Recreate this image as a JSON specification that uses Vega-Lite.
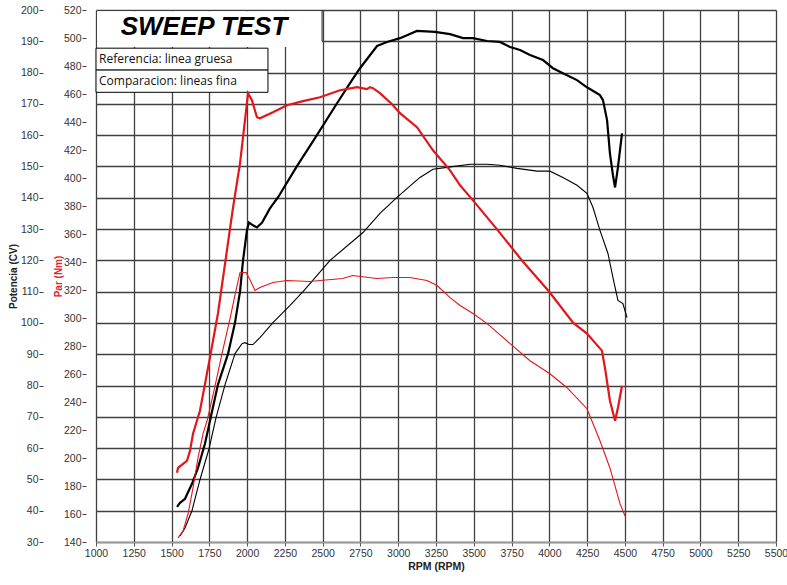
{
  "$schema": "https://vega.github.io/schema/vega-lite/v6.json",
  "autosize": {"type": "none"},
  "width": 680,
  "height": 532,
  "padding": {"left": 96, "top": 10, "right": 11, "bottom": 43},
  "background": "white",
  "config": {"view": {"stroke": null}, "font": "Liberation Sans"},
  "datasets": {
    "power": [
      {"rpm":1536,"cv":41.2,"s":"ref"},{"rpm":1556,"cv":42.5,"s":"ref"},{"rpm":1589,"cv":43.8,"s":"ref"},{"rpm":1635,"cv":48.6,"s":"ref"},{"rpm":1675,"cv":53.7,"s":"ref"},{"rpm":1721,"cv":61.4,"s":"ref"},{"rpm":1754,"cv":68.7,"s":"ref"},{"rpm":1807,"cv":80.3,"s":"ref"},{"rpm":1874,"cv":90.2,"s":"ref"},{"rpm":1920,"cv":100.1,"s":"ref"},{"rpm":1953,"cv":110.0,"s":"ref"},{"rpm":1973,"cv":120.0,"s":"ref"},{"rpm":1999,"cv":129.6,"s":"ref"},{"rpm":2012,"cv":132.1,"s":"ref"},{"rpm":2039,"cv":131.2,"s":"ref"},{"rpm":2065,"cv":130.5,"s":"ref"},{"rpm":2099,"cv":132.1,"s":"ref"},{"rpm":2151,"cv":136.6,"s":"ref"},{"rpm":2204,"cv":140.1,"s":"ref"},{"rpm":2330,"cv":150.1,"s":"ref"},{"rpm":2462,"cv":160.0,"s":"ref"},{"rpm":2595,"cv":170.2,"s":"ref"},{"rpm":2694,"cv":177.6,"s":"ref"},{"rpm":2747,"cv":181.4,"s":"ref"},{"rpm":2860,"cv":188.5,"s":"ref"},{"rpm":2926,"cv":189.8,"s":"ref"},{"rpm":3012,"cv":191.0,"s":"ref"},{"rpm":3124,"cv":193.3,"s":"ref"},{"rpm":3243,"cv":193.0,"s":"ref"},{"rpm":3343,"cv":192.3,"s":"ref"},{"rpm":3429,"cv":191.0,"s":"ref"},{"rpm":3495,"cv":191.0,"s":"ref"},{"rpm":3588,"cv":190.1,"s":"ref"},{"rpm":3673,"cv":189.8,"s":"ref"},{"rpm":3740,"cv":188.2,"s":"ref"},{"rpm":3806,"cv":187.2,"s":"ref"},{"rpm":3872,"cv":185.6,"s":"ref"},{"rpm":3958,"cv":184.0,"s":"ref"},{"rpm":4024,"cv":181.4,"s":"ref"},{"rpm":4090,"cv":179.8,"s":"ref"},{"rpm":4183,"cv":177.6,"s":"ref"},{"rpm":4249,"cv":175.3,"s":"ref"},{"rpm":4335,"cv":172.8,"s":"ref"},{"rpm":4355,"cv":171.2,"s":"ref"},{"rpm":4382,"cv":164.8,"s":"ref"},{"rpm":4401,"cv":154.2,"s":"ref"},{"rpm":4421,"cv":147.2,"s":"ref"},{"rpm":4435,"cv":143.3,"s":"ref"},{"rpm":4454,"cv":149.7,"s":"ref"},{"rpm":4481,"cv":160.6,"s":"ref"},
      {"rpm":1556,"cv":31.9,"s":"cmp"},{"rpm":1589,"cv":34.5,"s":"cmp"},{"rpm":1635,"cv":40.0,"s":"cmp"},{"rpm":1688,"cv":49.9,"s":"cmp"},{"rpm":1748,"cv":59.8,"s":"cmp"},{"rpm":1794,"cv":69.7,"s":"cmp"},{"rpm":1854,"cv":80.3,"s":"cmp"},{"rpm":1920,"cv":90.2,"s":"cmp"},{"rpm":1966,"cv":93.4,"s":"cmp"},{"rpm":1986,"cv":93.7,"s":"cmp"},{"rpm":2012,"cv":93.1,"s":"cmp"},{"rpm":2039,"cv":93.1,"s":"cmp"},{"rpm":2085,"cv":95.3,"s":"cmp"},{"rpm":2171,"cv":100.1,"s":"cmp"},{"rpm":2284,"cv":105.6,"s":"cmp"},{"rpm":2370,"cv":110.0,"s":"cmp"},{"rpm":2549,"cv":120.0,"s":"cmp"},{"rpm":2767,"cv":128.9,"s":"cmp"},{"rpm":2879,"cv":135.0,"s":"cmp"},{"rpm":2992,"cv":140.1,"s":"cmp"},{"rpm":3098,"cv":144.6,"s":"cmp"},{"rpm":3144,"cv":146.5,"s":"cmp"},{"rpm":3230,"cv":149.1,"s":"cmp"},{"rpm":3323,"cv":149.7,"s":"cmp"},{"rpm":3475,"cv":150.7,"s":"cmp"},{"rpm":3588,"cv":150.7,"s":"cmp"},{"rpm":3673,"cv":150.4,"s":"cmp"},{"rpm":3786,"cv":149.4,"s":"cmp"},{"rpm":3918,"cv":148.5,"s":"cmp"},{"rpm":4004,"cv":148.5,"s":"cmp"},{"rpm":4090,"cv":146.5,"s":"cmp"},{"rpm":4183,"cv":144.0,"s":"cmp"},{"rpm":4249,"cv":141.4,"s":"cmp"},{"rpm":4289,"cv":136.9,"s":"cmp"},{"rpm":4335,"cv":129.6,"s":"cmp"},{"rpm":4388,"cv":122.2,"s":"cmp"},{"rpm":4421,"cv":114.5,"s":"cmp"},{"rpm":4454,"cv":107.2,"s":"cmp"},{"rpm":4487,"cv":106.2,"s":"cmp"},{"rpm":4514,"cv":101.7,"s":"cmp"}
    ],
    "torque": [
      {"rpm":1536,"nm":189.4,"s":"ref"},{"rpm":1543,"nm":192.9,"s":"ref"},{"rpm":1576,"nm":195.8,"s":"ref"},{"rpm":1602,"nm":198.0,"s":"ref"},{"rpm":1622,"nm":205.1,"s":"ref"},{"rpm":1642,"nm":217.3,"s":"ref"},{"rpm":1668,"nm":226.6,"s":"ref"},{"rpm":1688,"nm":233.7,"s":"ref"},{"rpm":1754,"nm":271.7,"s":"ref"},{"rpm":1807,"nm":303.2,"s":"ref"},{"rpm":1854,"nm":338.9,"s":"ref"},{"rpm":1907,"nm":379.0,"s":"ref"},{"rpm":1953,"nm":410.5,"s":"ref"},{"rpm":1986,"nm":441.3,"s":"ref"},{"rpm":2006,"nm":460.6,"s":"ref"},{"rpm":2032,"nm":455.6,"s":"ref"},{"rpm":2065,"nm":443.4,"s":"ref"},{"rpm":2085,"nm":442.7,"s":"ref"},{"rpm":2171,"nm":447.0,"s":"ref"},{"rpm":2264,"nm":452.0,"s":"ref"},{"rpm":2370,"nm":454.9,"s":"ref"},{"rpm":2482,"nm":457.7,"s":"ref"},{"rpm":2615,"nm":462.7,"s":"ref"},{"rpm":2727,"nm":464.9,"s":"ref"},{"rpm":2793,"nm":463.5,"s":"ref"},{"rpm":2813,"nm":464.9,"s":"ref"},{"rpm":2833,"nm":464.2,"s":"ref"},{"rpm":2879,"nm":460.6,"s":"ref"},{"rpm":2959,"nm":452.7,"s":"ref"},{"rpm":3012,"nm":446.3,"s":"ref"},{"rpm":3124,"nm":436.3,"s":"ref"},{"rpm":3230,"nm":419.8,"s":"ref"},{"rpm":3343,"nm":405.5,"s":"ref"},{"rpm":3409,"nm":394.8,"s":"ref"},{"rpm":3495,"nm":384.0,"s":"ref"},{"rpm":3654,"nm":363.3,"s":"ref"},{"rpm":3819,"nm":341.1,"s":"ref"},{"rpm":3998,"nm":318.9,"s":"ref"},{"rpm":4157,"nm":296.7,"s":"ref"},{"rpm":4249,"nm":288.9,"s":"ref"},{"rpm":4348,"nm":276.7,"s":"ref"},{"rpm":4368,"nm":264.5,"s":"ref"},{"rpm":4401,"nm":240.9,"s":"ref"},{"rpm":4435,"nm":226.6,"s":"ref"},{"rpm":4454,"nm":235.9,"s":"ref"},{"rpm":4481,"nm":251.6,"s":"ref"},
      {"rpm":1543,"nm":142.9,"s":"cmp"},{"rpm":1576,"nm":147.9,"s":"cmp"},{"rpm":1609,"nm":160.0,"s":"cmp"},{"rpm":1642,"nm":178.6,"s":"cmp"},{"rpm":1675,"nm":200.1,"s":"cmp"},{"rpm":1708,"nm":217.3,"s":"cmp"},{"rpm":1735,"nm":226.6,"s":"cmp"},{"rpm":1781,"nm":248.1,"s":"cmp"},{"rpm":1834,"nm":274.5,"s":"cmp"},{"rpm":1887,"nm":299.6,"s":"cmp"},{"rpm":1926,"nm":319.6,"s":"cmp"},{"rpm":1953,"nm":332.5,"s":"cmp"},{"rpm":1973,"nm":332.5,"s":"cmp"},{"rpm":1993,"nm":332.5,"s":"cmp"},{"rpm":2019,"nm":327.3,"s":"cmp"},{"rpm":2052,"nm":319.6,"s":"cmp"},{"rpm":2085,"nm":321.8,"s":"cmp"},{"rpm":2171,"nm":325.3,"s":"cmp"},{"rpm":2264,"nm":326.8,"s":"cmp"},{"rpm":2416,"nm":326.1,"s":"cmp"},{"rpm":2482,"nm":326.8,"s":"cmp"},{"rpm":2633,"nm":328.2,"s":"cmp"},{"rpm":2699,"nm":330.4,"s":"cmp"},{"rpm":2859,"nm":328.2,"s":"cmp"},{"rpm":2965,"nm":328.9,"s":"cmp"},{"rpm":3078,"nm":328.9,"s":"cmp"},{"rpm":3190,"nm":326.8,"s":"cmp"},{"rpm":3257,"nm":323.2,"s":"cmp"},{"rpm":3343,"nm":314.6,"s":"cmp"},{"rpm":3409,"nm":308.9,"s":"cmp"},{"rpm":3495,"nm":303.2,"s":"cmp"},{"rpm":3588,"nm":296.0,"s":"cmp"},{"rpm":3740,"nm":281.7,"s":"cmp"},{"rpm":3872,"nm":269.5,"s":"cmp"},{"rpm":4004,"nm":260.2,"s":"cmp"},{"rpm":4117,"nm":250.2,"s":"cmp"},{"rpm":4249,"nm":235.2,"s":"cmp"},{"rpm":4335,"nm":212.3,"s":"cmp"},{"rpm":4401,"nm":192.9,"s":"cmp"},{"rpm":4468,"nm":167.2,"s":"cmp"},{"rpm":4501,"nm":158.6,"s":"cmp"}
    ]
  },
  "layer": [
    {
      "layer": [
        {
          "data": {"name": "power"},
          "mark": {"type": "line", "color": "black"},
          "encoding": {
            "x": {"field": "rpm", "type": "quantitative",
              "scale": {"domain": [1000, 5500], "nice": false, "zero": false},
              "axis": {"orient": "bottom", "title": "RPM (RPM)", "format": "d", "tickCount": 100, "values": [1000,1250,1500,1750,2000,2250,2500,2750,3000,3250,3500,3750,4000,4250,4500,4750,5000,5250,5500],
                "grid": true, "gridColor": "#404040", "gridWidth": 1.3, "gridOpacity": 1,
                "domain": true, "domainColor": "#999999", "domainWidth": 1.5,
                "ticks": true, "tickColor": "#555555", "tickSize": 4,
                "labelFontSize": 10.5, "labelColor": "#333333", "labelPadding": 2, "labelFlush": false, "labelOverlap": false,
                "titleFontSize": 10.5, "titleFontWeight": "bold", "titleColor": "#222222", "titlePadding": 3}},
            "y": {"field": "cv", "type": "quantitative",
              "scale": {"domain": [30, 200], "nice": false, "zero": false},
              "axis": {"orient": "left", "offset": 53, "title": "Potencia (CV)", "tickCount": 100, "values": [30,40,50,60,70,80,90,100,110,120,130,140,150,160,170,180,190,200],
                "grid": true, "gridColor": "#404040", "gridWidth": 1.3, "gridOpacity": 1,
                "domain": false, "ticks": true, "tickColor": "#444444", "tickSize": 4,
                "labelFontSize": 10.5, "labelColor": "#333333", "labelPadding": 1, "labelFlush": false, "labelOverlap": false,
                "titleFontSize": 10, "titleFontWeight": "bold", "titleColor": "#222222", "titlePadding": 2}},
            "detail": {"field": "s"},
            "strokeWidth": {"field": "s", "type": "nominal", "scale": {"domain": ["ref", "cmp"], "range": [2.2, 1.1]}, "legend": null}
          }
        },
        {
          "data": {"values": [{}]},
          "mark": {"type": "rect", "fill": "white", "stroke": null},
          "encoding": {"x": {"datum": 1008}, "x2": {"datum": 2496}, "y": {"datum": 188.2}, "y2": {"datum": 199.6}}
        },
        {
          "data": {"values": [{}]},
          "mark": {"type": "rule", "color": "#222222", "strokeWidth": 1},
          "encoding": {"x": {"datum": 2496}, "y": {"datum": 190}, "y2": {"datum": 200}}
        },
        {
          "data": {"values": [{}]},
          "mark": {"type": "rect", "fill": "white", "stroke": "black", "strokeWidth": 1},
          "encoding": {"x": {"datum": 1000}, "x2": {"datum": 2138}, "y": {"datum": 180.8}, "y2": {"datum": 187.8}}
        },
        {
          "data": {"values": [{}]},
          "mark": {"type": "rect", "fill": "white", "stroke": "black", "strokeWidth": 1},
          "encoding": {"x": {"datum": 1000}, "x2": {"datum": 2138}, "y": {"datum": 173.7}, "y2": {"datum": 180.8}}
        },
        {
          "data": {"values": [{}]},
          "mark": {"type": "text", "text": "SWEEP TEST", "font": "Liberation Sans", "fontSize": 26, "fontWeight": "bold", "fontStyle": "italic", "align": "center", "baseline": "middle", "color": "black"},
          "encoding": {"x": {"datum": 1715}, "y": {"datum": 194.6}}
        },
        {
          "data": {"values": [{}]},
          "mark": {"type": "text", "text": "Referencia: linea gruesa", "font": "Open Sans", "fontSize": 12, "align": "left", "baseline": "middle", "color": "#111111"},
          "encoding": {"x": {"datum": 1020}, "y": {"datum": 184.3}}
        },
        {
          "data": {"values": [{}]},
          "mark": {"type": "text", "text": "Comparacion: lineas fina", "font": "Open Sans", "fontSize": 12, "align": "left", "baseline": "middle", "color": "#111111"},
          "encoding": {"x": {"datum": 1020}, "y": {"datum": 177.2}}
        }
      ]
    },
    {
      "data": {"name": "torque"},
      "mark": {"type": "line", "color": "#e3161b"},
      "encoding": {
        "x": {"field": "rpm", "type": "quantitative"},
        "y": {"field": "nm", "type": "quantitative",
          "scale": {"domain": [140, 520], "nice": false, "zero": false},
          "axis": {"orient": "left", "offset": 10, "title": "Par (Nm)", "tickCount": 100, "values": [140,160,180,200,220,240,260,280,300,320,340,360,380,400,420,440,460,480,500,520],
            "grid": false, "domain": false, "ticks": true, "tickColor": "#444444", "tickSize": 4,
            "labelFontSize": 10.5, "labelColor": "#333333", "labelPadding": 1, "labelFlush": false, "labelOverlap": false,
            "titleFontSize": 10, "titleFontWeight": "bold", "titleColor": "#d9272e", "titlePadding": 0}},
        "detail": {"field": "s"},
        "strokeWidth": {"field": "s", "type": "nominal", "scale": {"domain": ["ref", "cmp"], "range": [2.2, 1.1]}, "legend": null}
      }
    }
  ],
  "resolve": {"scale": {"y": "independent"}, "axis": {"y": "independent"}}
}
